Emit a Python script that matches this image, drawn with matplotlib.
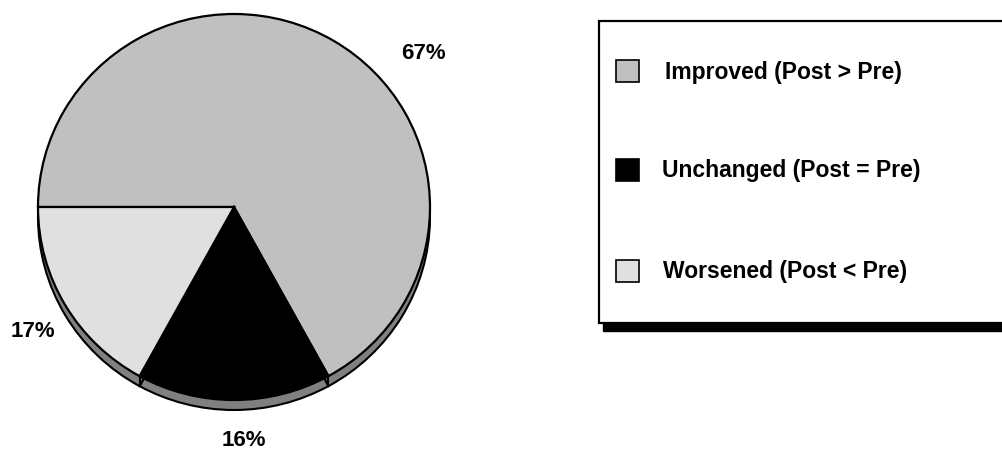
import numpy as np
import matplotlib
matplotlib.use('Agg')
import matplotlib.pyplot as plt
from matplotlib.patches import Wedge, Rectangle

plt.rcParams['font.family'] = ['Liberation Sans', 'DejaVu Sans']

# ---------- données ----------
categories = ['Improved (Post > Pre)', 'Unchanged (Post = Pre)', 'Worsened (Post < Pre)']
shares = [67, 16, 17]
colors = ['#c0c0c0', '#000000', '#e0e0e0']
shadow_color = '#808080'

# positions des étiquettes (coordonnées données du camembert)
label_pos = [(0.969, 0.798), (0.051, -1.207), (-1.026, -0.642)]

W, H = 1002, 452
fig = plt.figure(figsize=(W / 100, H / 100), dpi=100)

# ---------- camembert ----------
cx, cy, rx, ry = 234, 208, 196, 193          # px
ax = fig.add_axes([(cx - rx) / W, (H - cy - ry) / H, 2 * rx / W, 2 * ry / H])
depth = 10 / ry                               # épaisseur "3D" en unités données

# tranche latérale (ombre) décalée vers le bas
start = 180.
angs = [start]
for s in shares:
    angs.append(angs[-1] - 360. * s / sum(shares))
for a0, a1 in zip(angs[:-1], angs[1:]):
    ax.add_patch(Wedge((0, -depth), 1, a1, a0, facecolor=shadow_color,
                       edgecolor='black', lw=1.5, clip_on=False, zorder=0))

wedges, _ = ax.pie(shares, colors=colors, startangle=start, counterclock=False,
                   wedgeprops=dict(edgecolor='black', linewidth=1.6))
for w in wedges:
    w.set_clip_on(False)
    w.set_zorder(2)

# arêtes verticales aux frontières dans la moitié basse
for a in angs:
    t = np.deg2rad(a)
    if np.sin(t) < -0.05:
        ax.plot([np.cos(t)] * 2, [np.sin(t), np.sin(t) - depth], color='black',
                lw=1.5, clip_on=False, zorder=3)

ax.set_aspect('auto')
ax.set_xlim(-1, 1); ax.set_ylim(-1, 1)
ax.set_axis_off()

for (lx, ly), s in zip(label_pos, shares):
    ax.text(lx, ly, f'{s}%', ha='center', va='center', fontsize=16,
            fontweight='bold', clip_on=False)

# ---------- légende (dessinée à la main, coordonnées px) ----------
lg = fig.add_axes([0, 0, 1, 1])
lg.set_xlim(0, W); lg.set_ylim(H, 0); lg.set_axis_off()
bx0, by0, by1 = 599, 22, 324
lg.add_patch(Rectangle((bx0 + 4, by0 + 8), W - bx0 + 10, by1 - by0, facecolor='black',
                       edgecolor='black', clip_on=False, zorder=1))
lg.add_patch(Rectangle((bx0, by0), W - bx0 + 10, by1 - by0, facecolor='white',
                       edgecolor='black', lw=1.6, clip_on=False, zorder=2))
row_y = [72, 171, 272]
text_x = [665, 662, 663]
for name, c, y, tx in zip(categories, colors, row_y, text_x):
    lg.add_patch(Rectangle((616, y - 11), 23, 22, facecolor=c, edgecolor='black',
                           lw=1.2, zorder=3))
    lg.text(tx, y, name, ha='left', va='center', fontsize=16.5, fontweight='bold',
            zorder=3)

fig.savefig('out.png', dpi=100, facecolor='white')
